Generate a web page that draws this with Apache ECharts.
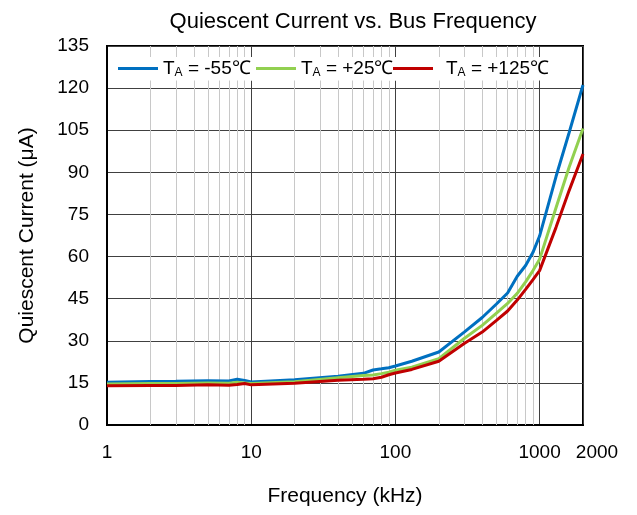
<!DOCTYPE html>
<html>
<head>
<meta charset="utf-8">
<script src="https://cdn.jsdelivr.net/npm/echarts@6/dist/echarts.min.js"></script>
<style>html,body{margin:0;padding:0;background:#fff}#c{width:637px;height:515px}</style>
</head>
<body>
<div id="c"></div>
<script>
const freq = [1, 2, 3, 5, 7, 8, 9, 10, 20, 40, 60, 70, 80, 90, 100, 130, 200, 300, 400, 500, 600, 700, 800, 900, 1000, 1300, 1600, 2000];
const iqM55 = [15.2, 15.5, 15.6, 15.8, 15.7, 16.3, 15.9, 15.3, 16.1, 17.4, 18.4, 19.6, 20.0, 20.4, 21.0, 22.7, 26.0, 33.1, 38.3, 43.0, 47.0, 53.0, 56.8, 61.5, 67.3, 88.5, 104.0, 121.1];
const iqP25 = [14.6, 14.8, 14.8, 15.0, 14.9, 15.2, 15.0, 14.8, 15.4, 16.8, 17.6, 17.8, 18.3, 18.8, 19.5, 20.6, 23.6, 30.8, 35.5, 39.8, 43.3, 46.9, 51.0, 55.0, 59.0, 77.4, 91.7, 105.6];
const iqP125 = [14.0, 14.1, 14.1, 14.3, 14.2, 14.4, 14.8, 14.3, 14.9, 15.9, 16.3, 16.5, 17.0, 17.9, 18.5, 19.8, 22.7, 29.0, 33.1, 37.2, 40.6, 44.5, 48.3, 51.8, 55.0, 70.4, 83.4, 96.5];
const seriesNames = ['TA = -55℃', 'TA = +25℃', 'TA = +125℃'];
const xTickLabels = [1, 10, 100, 1000, 2000];
const minorTicks = [2,3,4,5,6,7,8,9,20,30,40,50,60,70,80,90,200,300,400,500,600,700,800,900];
const yMin = 0, yMax = 135, yStep = 15;

const FONT = '"Liberation Sans", Arial, sans-serif';
const chart = echarts.init(document.getElementById('c'), null, {renderer: 'canvas'});
const mk = arr => freq.map((f, i) => [f, arr[i]]);
const colors = ['#0070C0', '#92D050', '#C00000'];

const legendBase = (name, left, padding, textPadLeft) => ({
  data: [name], left: left, top: 57, z: 100,
  backgroundColor: '#fff', padding: padding,
  itemWidth: 40, itemHeight: 3, icon: 'rect',
  formatter: n => n.replace('TA', 'T{s|A}'),
  textStyle: {fontFamily: FONT, fontSize: 19, color: '#000', padding: [0, 0, 0, textPadLeft],
    rich: {s: {fontFamily: FONT, fontSize: 12, color: '#000', verticalAlign: 'bottom', padding: [8, 0, 0, 0]}}}
});

chart.setOption({
  animation: false,
  backgroundColor: '#fff',
  title: {
    text: 'Quiescent Current vs. Bus Frequency',
    left: 348, top: 6, textAlign: 'center',
    textStyle: {fontFamily: FONT, fontSize: 22, fontWeight: 'normal', color: '#000'}
  },
  grid: {left: 107, right: 54, top: 46, bottom: 90, show: true, borderColor: '#000', borderWidth: 2, backgroundColor: 'transparent'},
  legend: [
    legendBase(seriesNames[0], 108, [2, 3, 2, 10], 0),
    legendBase(seriesNames[1], 250, [2, 3, 2, 6], 0),
    legendBase(seriesNames[2], 389, [2, 8, 2, 4], 8)
  ],
  xAxis: {
    type: 'log', logBase: 10, min: 1, max: 2000,
    name: 'Frequency (kHz)', nameLocation: 'middle', nameGap: 61,
    nameTextStyle: {fontFamily: FONT, fontSize: 21, color: '#000'},
    axisLine: {show: true, lineStyle: {color: '#000', width: 2}},
    axisTick: {show: false},
    axisLabel: {
      fontFamily: FONT, fontSize: 19, color: '#000', margin: 18, showMaxLabel: true, hideOverlap: false,
      formatter: v => (xTickLabels.indexOf(Math.round(v)) >= 0 ? (Math.round(v) === 2000 ? '{b|2000}' : String(Math.round(v))) : ''),
      rich: {b: {fontFamily: FONT, fontSize: 19, color: '#000', padding: [0, 0, 6, 28]}}
    },
    splitLine: {show: true, lineStyle: {color: '#404040', width: 1}}
  },
  yAxis: {
    type: 'value', min: yMin, max: yMax, interval: yStep,
    name: 'Quiescent Current (μA)', nameLocation: 'middle', nameGap: 69,
    nameTextStyle: {fontFamily: FONT, fontSize: 21, color: '#000'},
    axisLine: {show: true, lineStyle: {color: '#000', width: 2}},
    axisTick: {show: false},
    axisLabel: {fontFamily: FONT, fontSize: 19, color: '#000', margin: 18},
    splitLine: {show: true, lineStyle: {color: '#404040', width: 1}}
  },
  series: [
    {
      type: 'line', data: [], silent: true, z: 1,
      markLine: {
        silent: true, symbol: 'none', animation: false, z: 1,
        label: {show: false},
        lineStyle: {color: '#c8c8c8', width: 1, type: 'solid'},
        data: minorTicks.map(v => ({xAxis: v}))
      }
    },
    ...seriesNames.map((n, k) => ({
      name: n, type: 'line', data: mk([iqM55, iqP25, iqP125][k]),
      showSymbol: false, symbol: 'none', z: 3,
      lineStyle: {color: colors[k], width: 3},
      itemStyle: {color: colors[k]}
    }))
  ]
});
</script>
</body>
</html>
